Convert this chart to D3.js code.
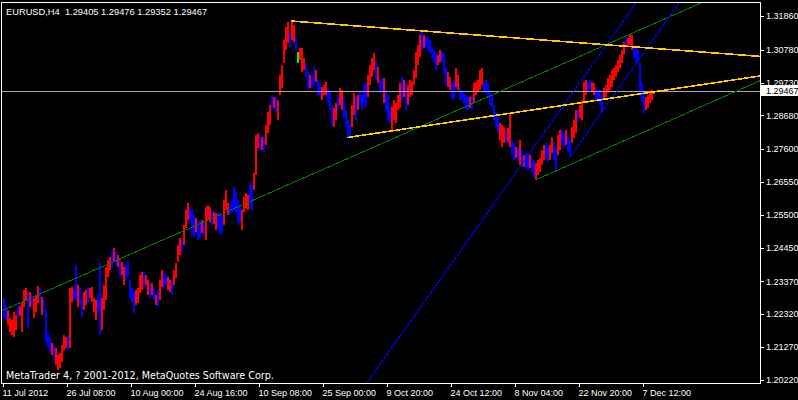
<!DOCTYPE html>
<html><head><meta charset="utf-8">
<script src="https://cdn.jsdelivr.net/npm/d3@7"></script>
<style>
html,body{margin:0;padding:0;background:#000;}
svg{display:block;}
</style></head><body>
<svg id="chart" width="798" height="400"></svg>
<script>
// ---------------- data ----------------
const symbolTitle = "EURUSD,H4  1.29405 1.29476 1.29352 1.29467";
const copyright = "MetaTrader 4, ? 2001-2012, MetaQuotes Software Corp.";
const priceTicks = ["1.31860","1.30780","1.29730","1.28680","1.27600","1.26550","1.25500","1.24450","1.23370","1.22320","1.21270","1.20220"];
const timeTickLabels = ["11 Jul 2012","26 Jul 08:00","10 Aug 00:00","24 Aug 16:00","10 Sep 08:00","25 Sep 00:00","9 Oct 20:00","24 Oct 12:00","8 Nov 04:00","22 Nov 20:00","7 Dec 12:00"];
const timeTickBars = [0,64,128,192,256,320,384,448,512,576,640];
const lastPrice = 1.29467;
const barsPerEntry = 2; // each entry spans two H4 bars

const highs = [
1.2284,1.2261,1.2245,1.2220,1.2213,1.2239,1.2229,1.2261,1.2258,1.2271,
1.2309,1.2316,1.2300,1.2303,1.2293,1.2284,1.2290,1.2322,1.2316,1.2287,
1.2277,1.2245,1.2172,1.2156,1.2140,1.2133,1.2124,1.2101,1.2108,1.2133,
1.2165,1.2159,1.2165,1.2316,1.2319,1.2309,1.2389,1.2325,1.2316,1.2277,
1.2303,1.2309,1.2319,1.2316,1.2319,1.2284,1.2277,1.2293,1.2399,1.2284,
1.2325,1.2383,1.2405,1.2415,1.2437,1.2444,1.2431,1.2421,1.2412,1.2399,
1.2383,1.2389,1.2405,1.2341,1.2316,1.2303,1.2309,1.2316,1.2357,1.2367,
1.2367,1.2357,1.2341,1.2332,1.2332,1.2316,1.2293,1.2309,1.2341,1.2373,
1.2364,1.2357,1.2351,1.2341,1.2341,1.2373,1.2396,1.2453,1.2476,1.2469,
1.2517,1.2565,1.2588,1.2575,1.2565,1.2549,1.2540,1.2527,1.2533,1.2533,
1.2527,1.2575,1.2581,1.2575,1.2565,1.2559,1.2556,1.2559,1.2556,1.2549,
1.2597,1.2629,1.2588,1.2581,1.2597,1.2639,1.2623,1.2597,1.2581,1.2565,
1.2607,1.2620,1.2613,1.2652,1.2645,1.2684,1.2805,1.2812,1.2805,1.2799,
1.2799,1.2837,1.2879,1.2901,1.2933,1.2927,1.2927,1.2917,1.2997,1.3029,
1.3109,1.3151,1.3167,1.3135,1.3170,1.3157,1.3116,1.3071,1.3084,1.3084,
1.3052,1.3036,1.3007,1.2997,1.2991,1.3023,1.3013,1.2981,1.2972,1.2959,
1.2965,1.2975,1.2959,1.2943,1.2901,1.2892,1.2908,1.2933,1.2956,1.2949,
1.2927,1.2885,1.2853,1.2837,1.2901,1.2940,1.2927,1.2933,1.2943,1.2933,
1.2965,1.2972,1.2997,1.3029,1.3052,1.3068,1.3039,1.3023,1.2981,1.2988,
1.2988,1.2949,1.2933,1.2895,1.2895,1.2917,1.2908,1.2933,1.2972,1.2991,
1.2981,1.2975,1.2965,1.2981,1.2975,1.3013,1.3071,1.3093,1.3125,1.3135,
1.3125,1.3119,1.3119,1.3109,1.3087,1.3077,1.3068,1.3061,1.3077,1.3071,
1.3068,1.3020,1.3007,1.2991,1.2972,1.2981,1.3020,1.2997,1.2959,1.2949,
1.2940,1.2933,1.2927,1.2927,1.2933,1.2972,1.2975,1.2981,1.3013,1.3020,
1.2972,1.2981,1.2972,1.2949,1.2933,1.2901,1.2879,1.2863,1.2844,1.2837,
1.2831,1.2821,1.2828,1.2876,1.2789,1.2780,1.2767,1.2767,1.2789,1.2757,
1.2741,1.2748,1.2748,1.2741,1.2732,1.2725,1.2716,1.2725,1.2732,1.2757,
1.2773,1.2780,1.2767,1.2773,1.2799,1.2783,1.2757,1.2805,1.2821,1.2821,
1.2815,1.2821,1.2799,1.2789,1.2831,1.2853,1.2885,1.2885,1.2901,1.2917,
1.2975,1.2981,1.2975,1.2981,1.2975,1.2972,1.2956,1.2949,1.2949,1.2933,
1.2956,1.2965,1.2988,1.2997,1.3013,1.3020,1.3029,1.3045,1.3061,1.3077,
1.3103,1.3119,1.3116,1.3125,1.3125,1.3093,1.3084,1.3077,1.3036,1.2975,
1.2949,1.2927,1.2933,1.2943,1.2949,1.29476];

const lows = [
1.2220,1.2213,1.2197,1.2175,1.2165,1.2159,1.2181,1.2220,1.2226,1.2175,
1.2255,1.2277,1.2188,1.2255,1.2261,1.2220,1.2239,1.2268,1.2277,1.2229,
1.2239,1.2143,1.2124,1.2111,1.2101,1.2085,1.2069,1.2053,1.2060,1.2079,
1.2117,1.2124,1.2117,1.2124,1.2271,1.2277,1.2277,1.2255,1.2268,1.2223,
1.2245,1.2261,1.2268,1.2284,1.2271,1.2239,1.2213,1.2239,1.2165,1.2181,
1.2245,1.2277,1.2351,1.2373,1.2380,1.2399,1.2389,1.2383,1.2351,1.2357,
1.2325,1.2341,1.2351,1.2284,1.2271,1.2236,1.2261,1.2268,1.2300,1.2309,
1.2319,1.2325,1.2293,1.2284,1.2293,1.2277,1.2261,1.2255,1.2277,1.2319,
1.2316,1.2325,1.2309,1.2303,1.2293,1.2325,1.2348,1.2399,1.2421,1.2431,
1.2453,1.2508,1.2533,1.2527,1.2485,1.2479,1.2495,1.2469,1.2476,1.2492,
1.2485,1.2469,1.2533,1.2527,1.2517,1.2520,1.2501,1.2508,1.2485,1.2492,
1.2517,1.2565,1.2549,1.2549,1.2556,1.2565,1.2559,1.2517,1.2527,1.2501,
1.2559,1.2572,1.2565,1.2581,1.2565,1.2629,1.2677,1.2764,1.2757,1.2757,
1.2751,1.2773,1.2812,1.2837,1.2885,1.2892,1.2879,1.2853,1.2933,1.2956,
1.3036,1.3077,1.3100,1.3087,1.3109,1.3103,1.3077,1.3036,1.3045,1.3007,
1.3013,1.2991,1.2949,1.2956,1.2956,1.2965,1.2975,1.2933,1.2927,1.2917,
1.2933,1.2933,1.2908,1.2885,1.2837,1.2831,1.2853,1.2885,1.2901,1.2885,
1.2860,1.2831,1.2799,1.2802,1.2831,1.2869,1.2853,1.2885,1.2901,1.2885,
1.2908,1.2895,1.2927,1.2965,1.2991,1.3013,1.2981,1.2972,1.2940,1.2943,
1.2908,1.2885,1.2853,1.2844,1.2821,1.2853,1.2844,1.2885,1.2892,1.2917,
1.2927,1.2885,1.2901,1.2927,1.2933,1.2965,1.2988,1.3029,1.3055,1.3077,
1.3084,1.3087,1.3077,1.3068,1.3052,1.3039,1.3013,1.3029,1.3039,1.3039,
1.3004,1.2965,1.2959,1.2949,1.2917,1.2924,1.2959,1.2949,1.2917,1.2917,
1.2908,1.2885,1.2885,1.2892,1.2885,1.2908,1.2933,1.2943,1.2949,1.2965,
1.2943,1.2940,1.2927,1.2901,1.2895,1.2853,1.2831,1.2812,1.2789,1.2767,
1.2780,1.2780,1.2783,1.2767,1.2741,1.2725,1.2732,1.2725,1.2709,1.2703,
1.2703,1.2700,1.2693,1.2700,1.2687,1.2668,1.2661,1.2677,1.2687,1.2709,
1.2725,1.2732,1.2719,1.2725,1.2748,1.2725,1.2693,1.2741,1.2757,1.2773,
1.2767,1.2773,1.2751,1.2735,1.2780,1.2796,1.2812,1.2847,1.2860,1.2853,
1.2908,1.2933,1.2943,1.2949,1.2943,1.2933,1.2917,1.2911,1.2901,1.2876,
1.2917,1.2927,1.2940,1.2949,1.2959,1.2981,1.2991,1.3007,1.3020,1.3036,
1.3061,1.3077,1.3087,1.3093,1.3077,1.3052,1.3039,1.3036,1.2943,1.2911,
1.2876,1.2885,1.2892,1.2908,1.2917,1.29352];

// u = close above open, d = close below open, n = doji
const directions = (
"dduuuuuduu"+"uududuuudu"+"dddduduuuu"+"uuduuddudd"+"uuduuuuddu"+
"uuuudududu"+"uddddduuuu"+"duudududuu"+"dduuduuuud"+"uuuddduddu"+
"duuuduuddd"+"uuuddddddu"+"uuudduuudu"+"duuududuuu"+"uuuduudnuu"+
"uddudduddu"+"uuddduuduu"+"dddduududd"+"dduuuududd"+"uddduuuuud"+
"uduuuuuuud"+"udddddduud"+"dduudduudd"+"ddduduuuuu"+"dddddddduu"+
"uduuddudud"+"uddudduuuu"+"udduudduud"+"dudduuuduu"+"uudduudddd"+
"uuuuuuuuuu"+"uduuuddddd"+"duuuuu").split("");

// trend lines: [bar index, price] anchors
const yellowUpper = [[288, 1.3170], [607, 1.3093]];
const yellowLower = [[344, 1.2797], [650, 1.2943]];
const greenUpper  = [[2, 1.2247], [657, 1.3170]];
const greenLower  = [[532, 1.2661], [697, 1.2894]];
const blueOuter   = [[363, 1.2008], [614, 1.3141]];
const blueInner   = [[567, 1.2735], [647, 1.3096]];

// ---------------- drawing ----------------
const svg = d3.select("#chart");
const W = 798, H = 400;
const plot = {left: 2, top: 2, right: 760, bottom: 383};

svg.append("rect").attr("width", W).attr("height", H).attr("fill", "#000");

const x = d3.scaleLinear().domain([0, 757]).range([3, 760]);
const y = d3.scaleLinear().domain([1.2022, 1.3186]).range([379.75, 16]);

svg.append("defs").append("clipPath").attr("id", "plotclip")
  .append("rect").attr("x", plot.left).attr("y", plot.top)
  .attr("width", plot.right - plot.left).attr("height", plot.bottom - plot.top);

const g = svg.append("g").attr("clip-path", "url(#plotclip)").attr("shape-rendering", "crispEdges");

const colorOf = {u: "#ff0000", d: "#0000ff", n: "#00ff00"};
const entries = highs.map((h, i) => ({i, h, l: lows[i], dir: directions[i]}));

g.selectAll("rect.bar").data(entries).enter().append("rect")
  .attr("class", "bar")
  .attr("x", d => Math.round(x(d.i * barsPerEntry)))
  .attr("width", d => Math.round(x((d.i + 1) * barsPerEntry)) - Math.round(x(d.i * barsPerEntry)))
  .attr("y", d => Math.round(y(d.h)))
  .attr("height", d => Math.max(1, Math.round(y(d.l)) - Math.round(y(d.h))))
  .attr("fill", d => colorOf[d.dir]);

// current price line
g.append("line")
  .attr("x1", plot.left).attr("x2", plot.right)
  .attr("y1", Math.round(y(lastPrice)) + 0.5).attr("y2", Math.round(y(lastPrice)) + 0.5)
  .attr("stroke", "#a8a8b0").attr("stroke-width", 1);

function trend(anchors, mode, color, width) {
  const [[i1, p1], [i2, p2]] = anchors;
  const slope = (p2 - p1) / (i2 - i1);
  const start = mode === "both" ? -20 : i1;
  const end = 800;
  g.append("line")
    .attr("x1", x(start)).attr("y1", y(p1 + slope * (start - i1)))
    .attr("x2", x(end)).attr("y2", y(p1 + slope * (end - i1)))
    .attr("stroke", color).attr("stroke-width", width)
    .attr("shape-rendering", "crispEdges");
}
trend(greenUpper, "both", "#008000", 1);
trend(greenLower, "ray", "#008000", 1);
trend(blueOuter, "both", "#0000ff", 1);
trend(blueInner, "ray", "#0000ff", 1);
trend(yellowUpper, "ray", "#ffcc00", 1.6);
trend(yellowLower, "ray", "#ffcc00", 1.6);

// frame
svg.append("rect")
  .attr("x", 1.5).attr("y", 2.5).attr("width", 759).attr("height", 381)
  .attr("fill", "none").attr("stroke", "#fff").attr("stroke-width", 1)
  .attr("shape-rendering", "crispEdges");

// right price axis
const ax = svg.append("g").attr("shape-rendering", "crispEdges");
priceTicks.forEach(t => {
  const yy = Math.round(y(+t)) + 0.5;
  ax.append("line").attr("x1", 761).attr("x2", 764).attr("y1", yy).attr("y2", yy)
    .attr("stroke", "#fff");
  ax.append("text").attr("x", 766).attr("y", y(+t) + 3.3)
    .attr("font-family", "Liberation Sans, Arial, sans-serif").attr("font-size", 9)
    .attr("fill", "#fff").text(t);
});
// current price box
const lp = y(lastPrice);
svg.append("rect").attr("x", 761).attr("y", Math.round(lp) - 6).attr("width", 37).attr("height", 11)
  .attr("fill", "#fff");
svg.append("text").attr("x", 766).attr("y", lp + 3.3)
  .attr("font-family", "Liberation Sans, Arial, sans-serif").attr("font-size", 9)
  .attr("fill", "#000").text(d3.format(".5f")(lastPrice));

// bottom time axis
timeTickBars.forEach((b, k) => {
  const xx = Math.round(x(b)) + 0.5;
  ax.append("line").attr("x1", xx).attr("x2", xx).attr("y1", 384).attr("y2", 387)
    .attr("stroke", "#fff");
  svg.append("text").attr("x", x(b) - 0.5).attr("y", 395.5)
    .attr("font-family", "Liberation Sans, Arial, sans-serif").attr("font-size", 9)
    .attr("fill", "#fff").text(timeTickLabels[k]);
});

// title and copyright
svg.append("text").attr("x", 6).attr("y", 14.5)
  .attr("font-family", "Liberation Sans, Arial, sans-serif").attr("font-size", 9.3)
  .attr("fill", "#fff").style("white-space", "pre").text(symbolTitle);
svg.append("text").attr("x", 6).attr("y", 379)
  .attr("font-family", "DejaVu Sans, sans-serif").attr("font-size", 9.6)
  .attr("fill", "#fff").text(copyright);
</script>
</body></html>
